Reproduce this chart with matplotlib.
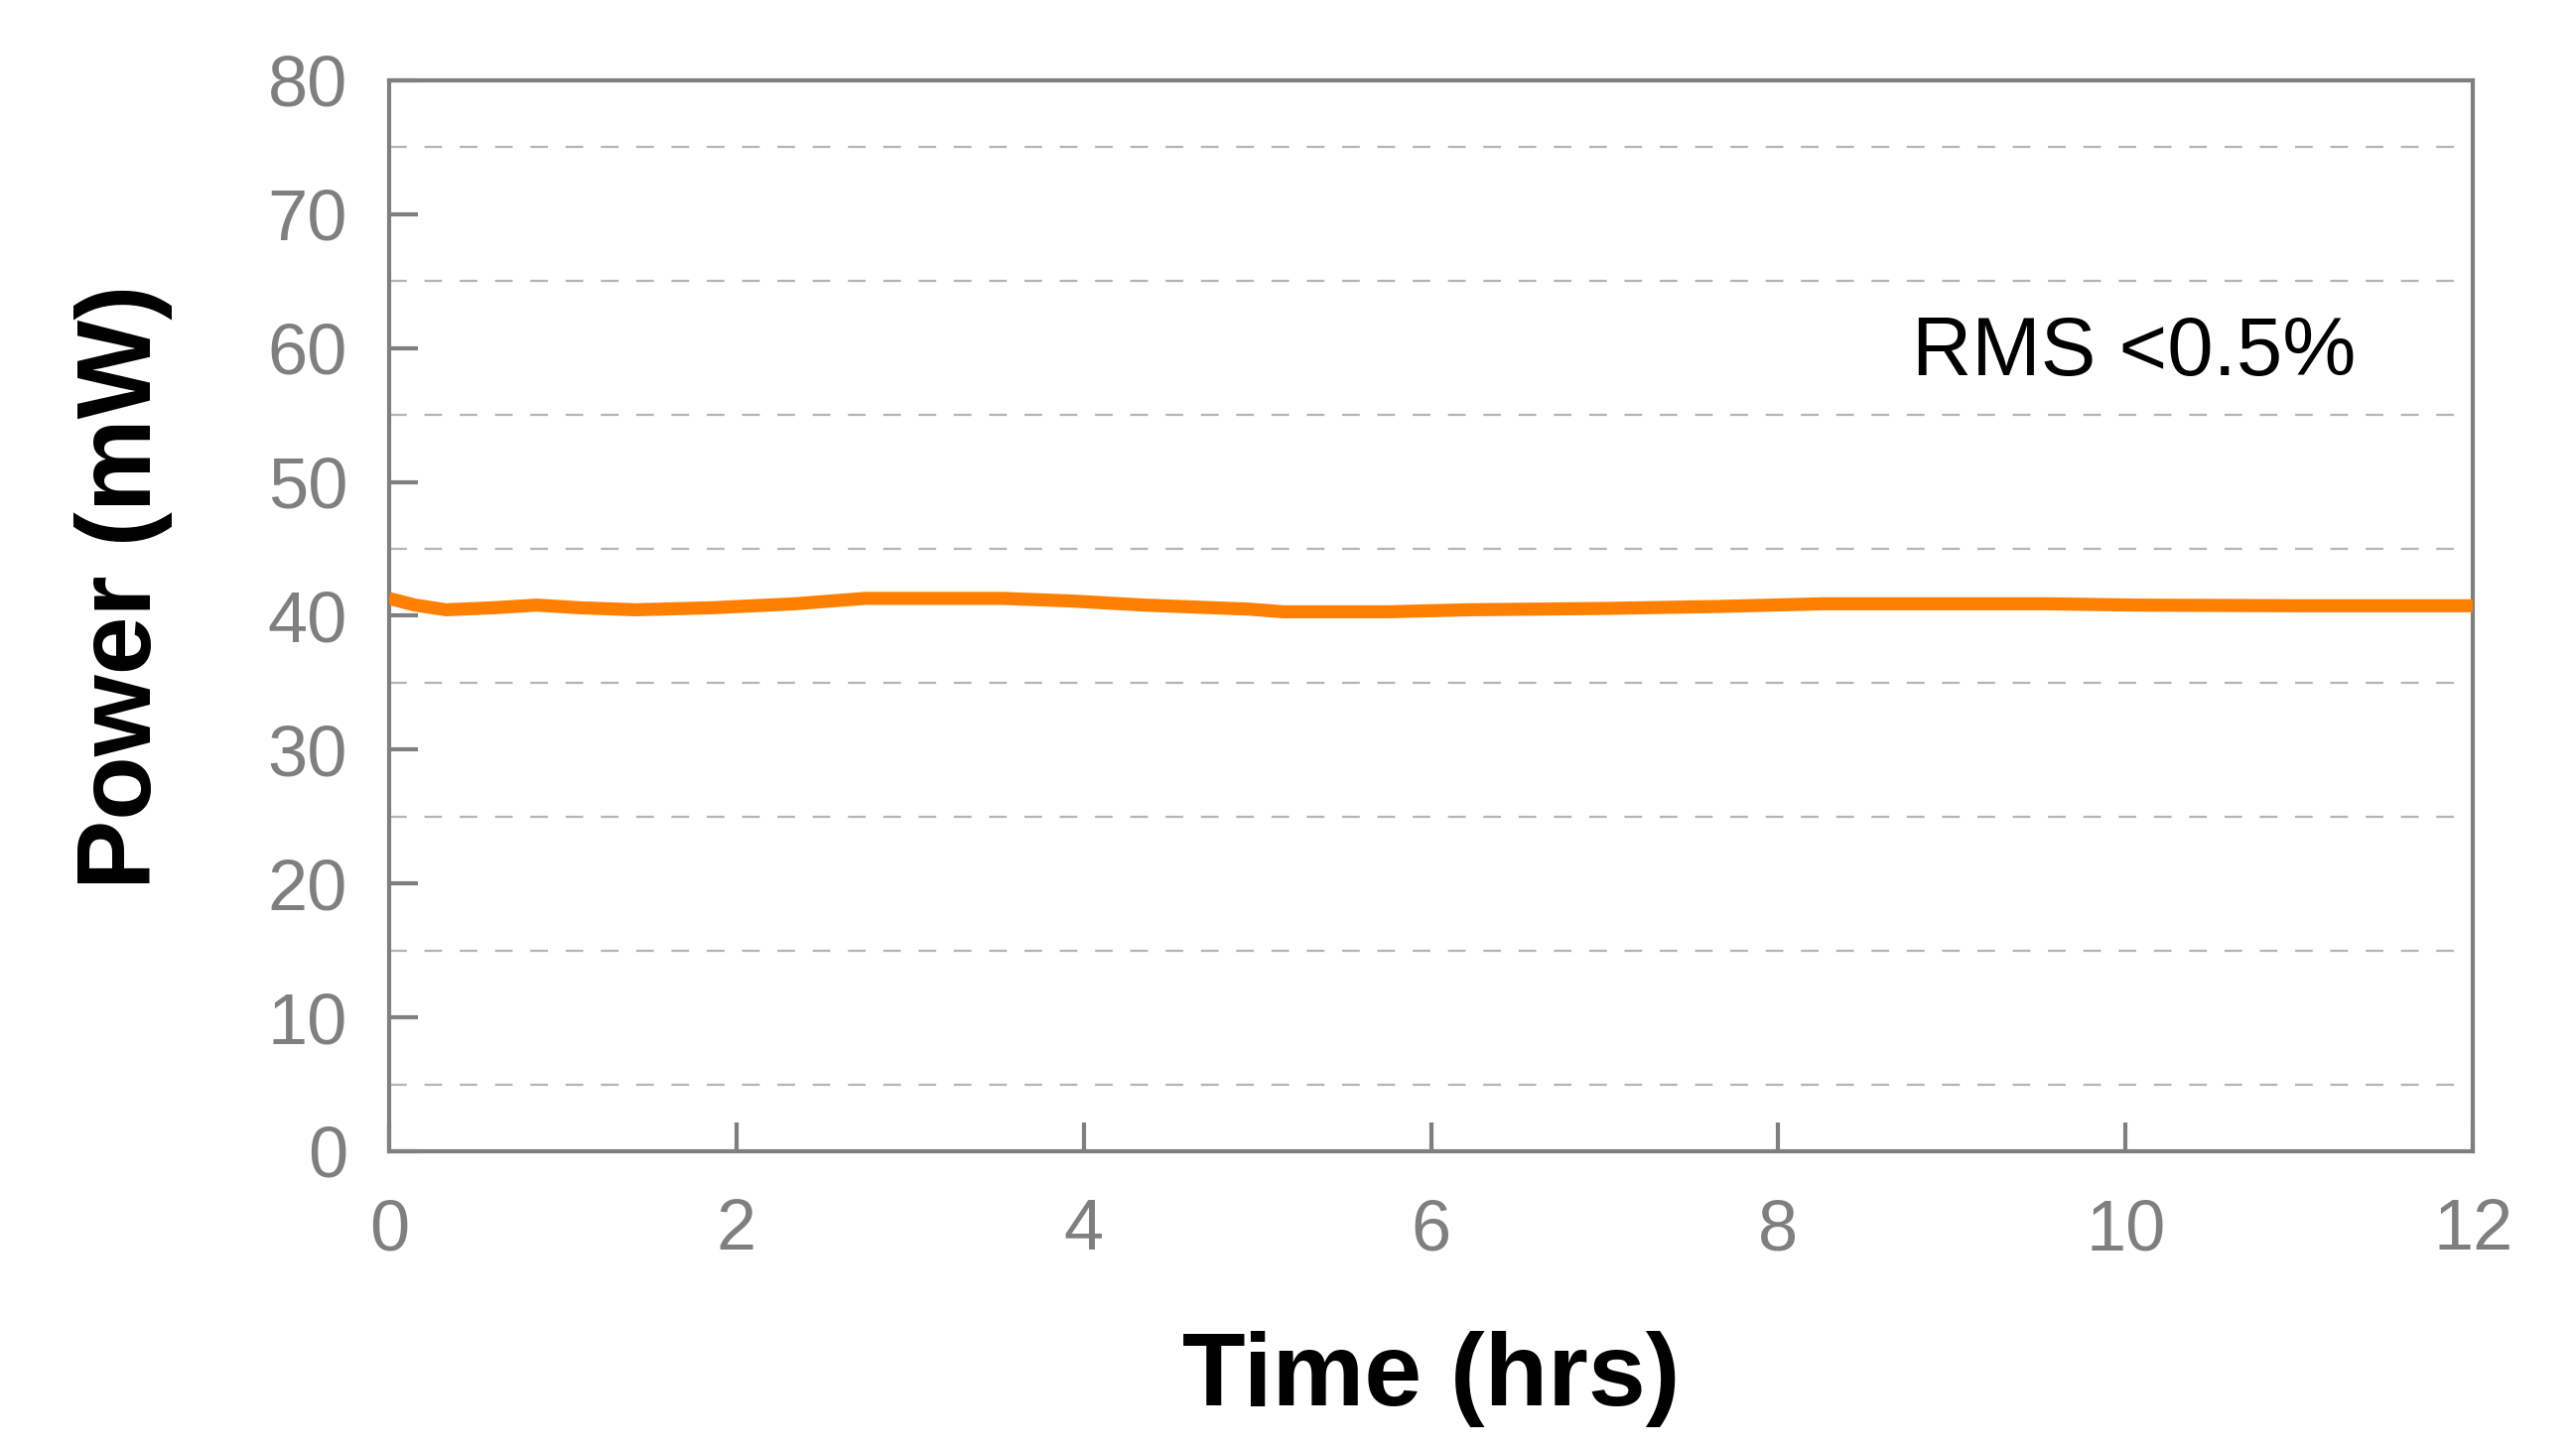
import matplotlib.pyplot as plt
import numpy as np

plt.rcParams['font.family'] = ['Liberation Sans', 'DejaVu Sans']

# data
time_hrs = [0, 0.15, 0.33, 0.6, 0.85, 1.1, 1.42, 1.86, 2.1, 2.34, 2.74, 3.1, 3.54,
            3.94, 4.35, 4.95, 5.15, 5.5, 5.75, 6.22, 7.0, 7.66, 8.26, 9.0, 9.54,
            10.06, 11.0, 12.0]
power_mw = [41.3, 40.8, 40.45, 40.6, 40.8, 40.6, 40.45, 40.6, 40.75, 40.9, 41.3,
            41.3, 41.3, 41.1, 40.8, 40.5, 40.3, 40.3, 40.3, 40.45, 40.55, 40.7,
            40.9, 40.9, 40.9, 40.8, 40.75, 40.75]
x_ticks = [0, 2, 4, 6, 8, 10, 12]
y_ticks = [0, 10, 20, 30, 40, 50, 60, 70, 80]
grid_levels = [5, 15, 25, 35, 45, 55, 65, 75]

gray = '#7f7f7f'

fig = plt.figure(figsize=(25.95, 14.62), dpi=100)
ax = fig.add_axes([0.151, 0.2066, 0.809, 0.738])

ax.plot(time_hrs, power_mw, color='#ff8000', lw=9.5, solid_capstyle='butt',
        solid_joinstyle='round', zorder=3)

ax.set_xlim(0, 12)
ax.set_ylim(0, 80)
ax.set_xticks(x_ticks)
ax.set_yticks(y_ticks)
ax.set_yticks(grid_levels, minor=True)

ax.tick_params(axis='both', which='major', direction='in', length=21, width=3,
               color=gray, labelcolor=gray, labelsize=52)
ax.tick_params(axis='x', which='major', pad=34)
ax.tick_params(axis='y', which='major', pad=30)
ax.tick_params(axis='y', which='minor', length=0)

ax.grid(which='minor', axis='y', color='#b5b5b5', lw=1.6, linestyle=(0, (8, 8)))

for s in ax.spines.values():
    s.set_color(gray)
    s.set_linewidth(3)

ax.set_xlabel('Time (hrs)', fontsize=75, fontweight='bold', labelpad=48)
ax.set_ylabel('Power (mW)', fontsize=76, fontweight='bold')
ax.yaxis.set_label_coords(-0.104, 0.527)

ax.text(8.77, 58, 'RMS <0.5%', fontsize=60, color='black', va='baseline')

fig.savefig('out.png', dpi=100)
